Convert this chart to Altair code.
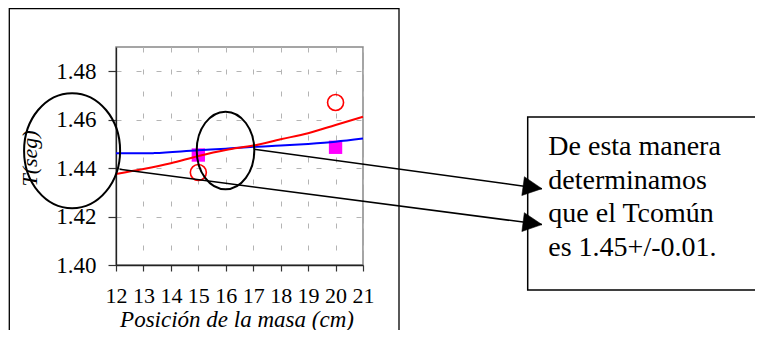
import math
import altair as alt
import pandas as pd

# ---------------- data ----------------
x_ticks = [12, 13, 14, 15, 16, 17, 18, 19, 20, 21]
y_ticks = [1.40, 1.42, 1.44, 1.46, 1.48]

meas_x = [15, 20]
circle_T = [1.4382, 1.4671]          # red open circles
square_T = [1.4454, 1.4486]          # magenta squares

red_x = [12, 13, 14, 15, 16, 17, 18, 19, 20, 21]
red_T = [1.4376, 1.4396, 1.4420, 1.4450, 1.4475, 1.4493, 1.4519, 1.4544, 1.4578, 1.4612]

blue_x = [12, 13, 13.4, 15, 16, 17, 18, 19, 20, 21]
blue_T = [1.4461, 1.4461, 1.4462, 1.4474, 1.4480, 1.4488, 1.4493, 1.4500, 1.4509, 1.4522]

# annotations (in data units of the chart)
ellipse_x = [10.40, 15.99]
ellipse_T = [1.4472, 1.4473]
ellipse_ratio = [0.835, 0.742]       # rx / ry
ellipse_ry_px = [57.5, 38.8]

arrow_x = [17.03, 12.13]
arrow_T = [1.4478, 1.4395]
arrow_x2 = [27.52, 27.52]
arrow_T2 = [1.4315, 1.4167]

note_lines = ["De esta manera", "determinamos", "que el Tcomún", "es 1.45+/-0.01."]

# ---------------- layout ----------------
W, H = 247, 218
XDOM, YDOM = [12, 21], [1.40, 1.49]
SERIF = "Liberation Serif"

xscale = alt.Scale(domain=XDOM, nice=False, zero=False)
yscale = alt.Scale(domain=YDOM, nice=False, zero=False)

xaxis = alt.Axis(values=x_ticks, format="d", title="Posición de la masa (cm)",
                 grid=True, gridDash=[5, 17], gridColor="#b4b4b4", gridWidth=1,
                 tickSize=6, labelPadding=31.7, labelBaseline="alphabetic",
                 labelFontSize=22, labelFlush=False, labelOverlap=False,
                 titleX=120.5, titleY=61, titleBaseline="alphabetic", titleAlign="center",
                 titleFontStyle="italic", titleFontSize=23, titleFontWeight="normal")
yaxis = alt.Axis(values=y_ticks, format=".2f", title="T(seg)",
                 grid=True, gridDash=[5, 15], gridColor="#b4b4b4", gridWidth=1,
                 tickSize=8, labelPadding=12, labelBaseline="middle",
                 labelFontSize=23, labelFlush=False, labelOverlap=False,
                 titleAngle=270, titleX=-80, titleY=111, titleBaseline="alphabetic",
                 titleAlign="center", titleFontStyle="italic", titleFontSize=22,
                 titleFontWeight="normal")

X = alt.X("x:Q", scale=xscale, axis=xaxis)
Y = alt.Y("T:Q", scale=yscale, axis=yaxis)

blue_df = pd.DataFrame({"x": blue_x, "T": blue_T})
red_df = pd.DataFrame({"x": red_x, "T": red_T})
sq_df = pd.DataFrame({"x": meas_x, "T": square_T})
ci_df = pd.DataFrame({"x": meas_x, "T": circle_T})

squares = alt.Chart(sq_df).mark_point(shape="square", filled=True, color="#ff00ff",
                                      size=178, opacity=1).encode(x=X, y=Y)
blue = alt.Chart(blue_df).mark_line(color="#0000ff", strokeWidth=2,
                                    interpolate="monotone").encode(x=X, y=Y)
red = alt.Chart(red_df).mark_line(color="#ff0000", strokeWidth=2,
                                  interpolate="monotone").encode(x=X, y=Y)
circles = alt.Chart(ci_df).mark_point(shape="circle", filled=False, color="#ff0000",
                                      size=256, strokeWidth=1.6, opacity=1).encode(x=X, y=Y)


def ellipse_path(a):
    k = 0.5523
    return (f"M {a} 0 C {a} {k} {k*a} 1 0 1 C {-k*a} 1 {-a} {k} {-a} 0 "
            f"C {-a} {-k} {-k*a} -1 0 -1 C {k*a} -1 {a} {-k} {a} 0 Z")


ellipses = []
for ex, et, r, ry in zip(ellipse_x, ellipse_T, ellipse_ratio, ellipse_ry_px):
    ellipses.append(
        alt.Chart(pd.DataFrame({"x": [ex], "T": [et]}))
        .mark_point(shape=ellipse_path(r), size=(2 * ry) ** 2, filled=False,
                    stroke="black", strokeWidth=2, opacity=1, clip=False)
        .encode(x=X, y=Y)
    )

px_x = W / (XDOM[1] - XDOM[0])
px_y = H / (YDOM[1] - YDOM[0])
arrow_df = pd.DataFrame({
    "x": arrow_x, "T": arrow_T, "x2": arrow_x2, "T2": arrow_T2,
    "ang": [math.degrees(math.atan2((t1 - t2) * px_y, (b - a) * px_x))
            for a, t1, b, t2 in zip(arrow_x, arrow_T, arrow_x2, arrow_T2)],
})
arrow_lines = alt.Chart(arrow_df).mark_rule(color="black", strokeWidth=1.5, clip=False).encode(
    x=X, y=Y, x2="x2:Q", y2="T2:Q")
head_df = pd.DataFrame({"x": arrow_x2, "T": arrow_T2, "ang": arrow_df["ang"]})
arrow_heads = alt.Chart(head_df).mark_point(
    shape="M 0 0 L -1 -0.5 L -1 0.5 Z", size=1444, filled=True, fill="black",
    stroke="black", strokeWidth=0.5, opacity=1, clip=False
).encode(x=X, y=Y, angle=alt.Angle("ang:Q", scale=None))

one = pd.DataFrame({"k": [0]})
outer_frame = alt.Chart(one).mark_rect(filled=False, stroke="black", strokeWidth=1.3,
                                       clip=False).encode(
    x=alt.value(-106.7), x2=alt.value(283), y=alt.value(-38.5), y2=alt.value(300))
note_box = alt.Chart(one).mark_rect(filled=False, stroke="black", strokeWidth=1.5,
                                    clip=False).encode(
    x=alt.value(411.7), x2=alt.value(660), y=alt.value(70), y2=alt.value(243))
note_text = alt.Chart(pd.DataFrame({"t": ["\n".join(note_lines)]})).mark_text(
    align="left", baseline="alphabetic", font=SERIF, fontSize=28, color="black",
    lineBreak="\n", lineHeight=33.7, clip=False
).encode(x=alt.value(432.3), y=alt.value(108), text="t:N")

chart = alt.layer(
    outer_frame, squares, blue, red, circles, *ellipses, arrow_lines, arrow_heads,
    note_box, note_text
).properties(
    width=W, height=H,
    autosize=alt.AutoSizeParams(type="none"),
    padding={"left": 108, "top": 39, "right": 392, "bottom": 65},
    background="white",
).configure_view(
    stroke="#888888", strokeWidth=1.5
).configure_axis(
    labelFont=SERIF, titleFont=SERIF, labelColor="black", titleColor="black",
    domainColor="#222222", domainWidth=1.3, tickColor="#333333", tickWidth=1.2,
)

chart.save("out.html", embed_options={"renderer": "svg", "actions": False})
